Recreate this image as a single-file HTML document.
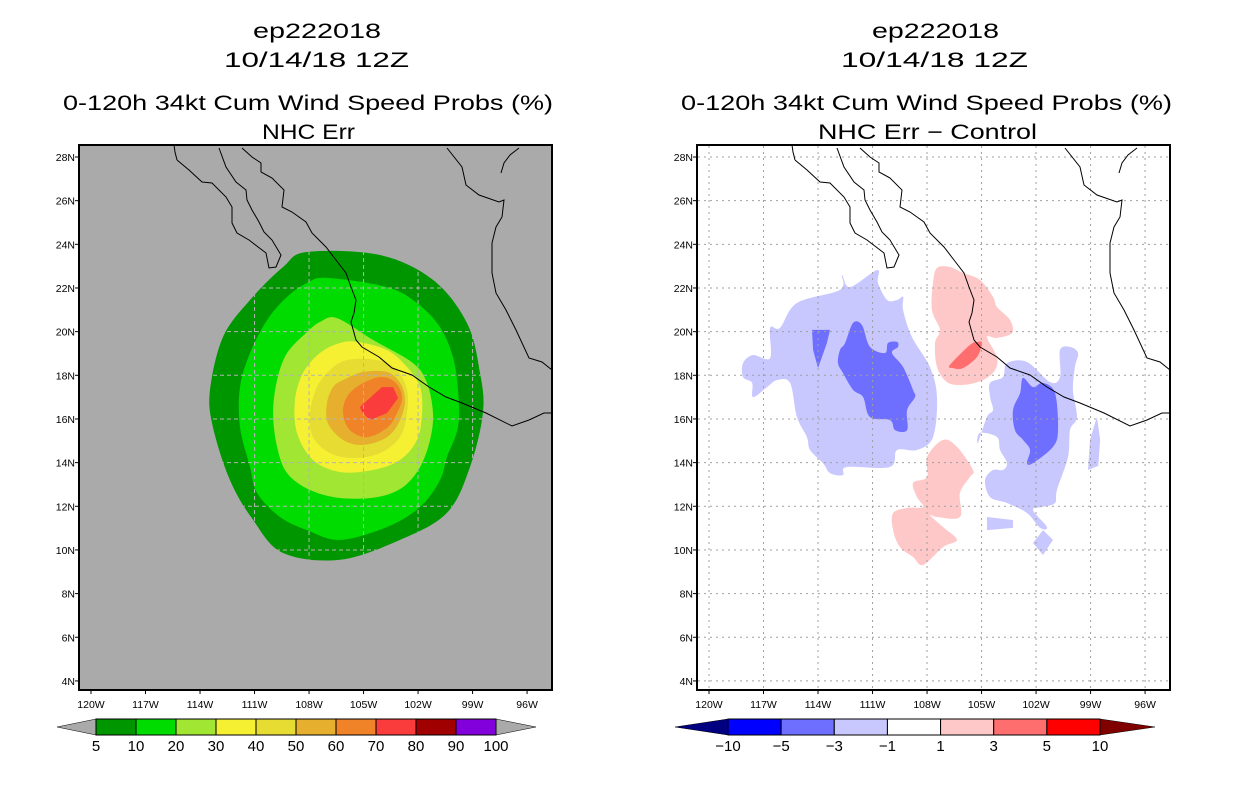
<!DOCTYPE html>
<html><head><meta charset="utf-8"><style>
html,body{margin:0;padding:0;background:#fff;}
svg{display:block;font-family:"Liberation Sans",sans-serif;}
</style></head><body>
<svg id="s" width="1236" height="800" viewBox="0 0 1236 800" xmlns="http://www.w3.org/2000/svg">
<g font-size="21" fill="#000">
<text x="253" y="38" textLength="128" lengthAdjust="spacingAndGlyphs">ep222018</text>
<text x="224" y="67" textLength="185" lengthAdjust="spacingAndGlyphs">10/14/18 12Z</text>
<text x="63" y="110" textLength="490" lengthAdjust="spacingAndGlyphs">0-120h 34kt Cum Wind Speed Probs (%)</text>
<text x="262" y="139" textLength="93" lengthAdjust="spacingAndGlyphs">NHC Err</text>
</g>
<g font-size="21" fill="#000">
<text x="872" y="38" textLength="127" lengthAdjust="spacingAndGlyphs">ep222018</text>
<text x="841" y="67" textLength="187" lengthAdjust="spacingAndGlyphs">10/14/18 12Z</text>
<text x="681" y="110" textLength="491" lengthAdjust="spacingAndGlyphs">0-120h 34kt Cum Wind Speed Probs (%)</text>
<text x="818" y="139" textLength="219" lengthAdjust="spacingAndGlyphs">NHC Err − Control</text>
</g>
<g id="left"></g>
<g id="right"></g>
<g id="cbars"></g>
</svg>
<script>
// ---- data ----
const latTicks=[4,6,8,10,12,14,16,18,20,22,24,26,28];
const lonTicks=[-120,-117,-114,-111,-108,-105,-102,-99,-96];
const probLevels=[5,10,20,30,40,50,60,70,80,90,100];
const probColors=["#009600","#00dc00","#a0e632","#f5f032","#e6dc32","#e6af2d","#f08228","#fa3c3c","#a00000","#8200dc"];
const diffLevels=[-10,-5,-3,-1,1,3,5,10];
const diffColors=["#0000ff","#6e6eff","#c8c8ff","#ffffff","#ffc8c8","#ff6e6e","#ff0000"];
const prob5=[[-108.11,23.65],[-104.09,23.51],[-101.18,22.37],[-99.31,20.40],[-98.59,18.11],[-98.43,16.28],[-99.14,13.80],[-100.41,11.70],[-102.99,10.46],[-106.30,9.55],[-109.43,9.86],[-111.08,11.37],[-112.35,13.20],[-113.29,15.63],[-113.45,17.33],[-112.74,19.75],[-111.25,21.45],[-109.43,22.96]];
const prob10=[[-107.01,22.46],[-103.71,22.04],[-102.06,21.31],[-100.79,20.21],[-100.08,18.84],[-99.80,17.33],[-99.80,15.63],[-100.41,14.26],[-100.79,13.20],[-101.89,11.97],[-103.71,11.05],[-106.30,10.46],[-108.11,10.91],[-109.60,11.51],[-110.86,12.61],[-111.25,13.80],[-111.80,15.63],[-111.80,17.46],[-111.25,19.02],[-110.31,20.53],[-109.21,21.59],[-108.11,22.23]];
const prob20=[[-106.46,20.62],[-104.48,19.62],[-102.28,18.56],[-101.51,17.65],[-101.18,16.27],[-101.34,15.04],[-101.89,13.80],[-102.83,12.88],[-104.26,12.42],[-106.30,12.38],[-107.95,12.75],[-109.21,13.52],[-109.76,14.72],[-109.98,16.27],[-109.76,17.78],[-109.21,19.02],[-108.11,19.98],[-107.40,20.44]];
const prob30=[[-105.36,19.53],[-103.71,19.16],[-102.61,18.38],[-101.89,17.46],[-101.78,16.27],[-102.06,15.04],[-103.00,14.12],[-104.48,13.66],[-106.30,13.57],[-107.78,14.12],[-108.66,15.36],[-108.77,16.87],[-108.33,18.11],[-107.40,19.02],[-106.30,19.48]];
const prob40=[[-105.91,18.70],[-104.26,18.70],[-103.16,18.24],[-102.61,17.33],[-102.61,16.27],[-103.00,15.17],[-104.09,14.44],[-105.58,14.21],[-106.85,14.44],[-107.78,15.17],[-107.95,16.27],[-107.56,17.46],[-106.85,18.24]];
const prob50=[[-106.13,17.78],[-105.03,18.15],[-103.71,18.15],[-102.99,17.65],[-102.72,16.87],[-102.99,15.95],[-103.71,15.17],[-105.03,14.81],[-106.13,15.04],[-106.96,15.81],[-107.01,16.73],[-106.68,17.46]];
const prob60=[[-105.20,17.56],[-104.09,17.92],[-103.27,17.69],[-102.88,17.01],[-103.16,16.27],[-103.71,15.59],[-104.81,15.17],[-105.75,15.49],[-106.13,16.27],[-105.91,17.01]];
const prob70=[[-105.20,16.55],[-103.99,17.46],[-103.38,17.46],[-103.10,16.96],[-103.71,16.27],[-104.65,15.95],[-105.09,16.32]];
const diffWestLight=[[-118.13,18.56],[-117.58,18.93],[-116.64,18.79],[-116.64,20.17],[-116.09,20.17],[-115.16,21.31],[-112.79,21.91],[-112.68,22.59],[-112.24,22.04],[-110.75,22.82],[-110.70,22.23],[-110.20,21.45],[-109.65,21.45],[-109.32,21.59],[-109.32,20.99],[-108.83,19.75],[-107.84,18.38],[-107.45,17.00],[-107.67,15.17],[-108.55,14.58],[-109.65,14.58],[-110.04,13.80],[-112.41,13.80],[-112.63,13.43],[-113.34,13.52],[-113.73,13.98],[-114.44,14.58],[-114.61,15.17],[-115.16,16.09],[-115.54,17.65],[-116.26,17.78],[-116.81,17.46],[-117.58,17.00],[-117.63,17.65],[-118.13,17.92]];
const diffWestMid=[[-112.07,20.40],[-111.58,20.30],[-111.14,19.30],[-110.31,19.02],[-110.15,19.48],[-109.65,19.53],[-109.60,19.30],[-109.93,19.02],[-109.32,18.38],[-108.77,17.33],[-108.66,17.00],[-109.10,16.41],[-109.10,15.49],[-109.76,15.49],[-110.04,15.95],[-111.14,16.09],[-111.52,17.00],[-112.07,17.33],[-112.63,18.11],[-112.90,18.56],[-112.79,19.16],[-112.51,19.48]];
const diffWestMid2=[[-114.33,20.08],[-113.34,20.08],[-113.51,19.48],[-114.00,18.33],[-114.27,19.16]];
const diffEastLight=[[-103.60,18.56],[-102.50,18.61],[-101.23,17.69],[-100.68,17.92],[-100.68,19.16],[-100.13,19.30],[-99.69,19.02],[-99.86,18.38],[-99.97,17.33],[-99.75,16.09],[-100.13,15.49],[-100.24,14.26],[-100.85,12.75],[-100.96,12.15],[-101.62,11.97],[-102.17,11.83],[-101.40,11.05],[-101.78,11.01],[-102.50,11.69],[-103.60,12.15],[-104.53,12.42],[-104.81,13.20],[-104.37,13.66],[-103.82,13.66],[-103.60,13.98],[-103.98,14.58],[-104.15,15.17],[-105.09,15.36],[-105.20,14.90],[-104.70,16.09],[-104.37,16.41],[-104.53,17.00],[-104.53,17.65],[-103.82,17.92]];
const diffEastMid=[[-102.72,17.88],[-102.17,17.46],[-101.62,17.65],[-100.96,17.19],[-100.79,15.49],[-101.07,14.72],[-102.17,13.98],[-102.50,13.98],[-102.33,14.58],[-102.72,15.04],[-103.16,15.49],[-103.27,16.41],[-102.88,17.19]];
const diffEastStrip=[[-98.65,16.09],[-98.47,15.04],[-98.58,13.85],[-99.14,13.66],[-99.03,15.04]];
const diffSouthBit=[[-102.17,10.32],[-101.62,10.91],[-101.07,10.46],[-101.62,9.77]];
const diffSouthBit2=[[-104.70,11.51],[-103.27,11.37],[-103.27,11.01],[-104.70,10.91]];
const diffNorthPink=[[-107.45,22.92],[-106.74,22.96],[-106.02,22.69],[-105.09,22.37],[-104.37,21.59],[-104.15,21.13],[-103.43,20.53],[-103.32,19.94],[-104.15,19.71],[-104.70,19.75],[-104.15,18.84],[-104.26,18.24],[-104.92,17.78],[-106.02,17.56],[-106.90,17.69],[-107.45,18.38],[-107.56,19.48],[-107.29,20.08],[-107.73,20.99],[-107.67,22.23]];
const diffNorthRed=[[-106.74,18.47],[-105.64,19.39],[-105.20,19.53],[-104.98,19.48],[-105.25,18.84],[-106.02,18.33],[-106.57,18.33]];
const diffSouthPink=[[-107.12,15.04],[-106.35,14.72],[-105.47,13.66],[-105.64,13.34],[-106.19,12.61],[-106.19,11.51],[-107.45,11.51],[-107.84,11.60],[-107.12,11.05],[-106.35,10.46],[-107.12,10.13],[-108.22,9.31],[-108.77,9.68],[-109.49,10.13],[-109.87,10.91],[-109.87,11.69],[-109.10,11.92],[-108.22,11.97],[-108.55,12.42],[-108.77,13.07],[-108.00,13.34],[-108.00,14.26]];

const NS="http://www.w3.org/2000/svg";
const PX0=91, PXS=18.17, PY0=157, PYS=21.83;
function xAxis(lon,off){return off+PX0+(lon+120)*PXS;}
function yAxis(lat){return PY0+(28-lat)*PYS;}
function mk(tag,attrs,parent){const e=document.createElementNS(NS,tag);for(const k in attrs)e.setAttribute(k,attrs[k]);parent.appendChild(e);return e;}
function smoothPath(pts,off){
  const p=pts.map(d=>[xAxis(d[0],off),yAxis(d[1])]);const n=p.length;
  let s="M"+p[0][0].toFixed(1)+","+p[0][1].toFixed(1);
  for(let i=0;i<n;i++){const p0=p[(i-1+n)%n],p1=p[i],p2=p[(i+1)%n],p3=p[(i+2)%n];
    const c1=[p1[0]+(p2[0]-p0[0])/6,p1[1]+(p2[1]-p0[1])/6],c2=[p2[0]-(p3[0]-p1[0])/6,p2[1]-(p3[1]-p1[1])/6];
    s+="C"+c1[0].toFixed(1)+","+c1[1].toFixed(1)+" "+c2[0].toFixed(1)+","+c2[1].toFixed(1)+" "+p2[0].toFixed(1)+","+p2[1].toFixed(1);}
  return s+"Z";}
function polyPath(pts,off){return "M"+pts.map(d=>xAxis(d[0],off).toFixed(1)+","+yAxis(d[1]).toFixed(1)).join("L")+"Z";}

const coastBaja="177,160 189,170 202,182 212,183 226,197 232,207 232,223 237,233 249,240 266,253 269,268 276,267 281,255 272,240 264,232 259,222 252,210 247,200 246,190 236,182 226,167 219,148";
const coastMain="242,148 252,157 261,163 261,172 272,178 284,190 282,207 292,212 306,222 312,233 326,247 336,260 346,273 351,287 356,300 354,313 351,322 356,340 362,347 379,357 392,368 412,375 429,387 446,397 462,403 486,413 512,426 529,420 544,413 552,413";
const coastGulf="447,148 462,167 466,185 479,195 499,202 504,200 502,217 496,227 492,243 492,273 496,293 506,310 516,330 529,358 542,362 552,370";
const coastTexas="501,173 504,163 510,155 519,148";
const coastTop="174,145 175,152 177,160";

function drawFrame(g,off){
  const x0=79+off,y0=145,w=473,h=545;
  latTicks.forEach(lat=>{const y=yAxis(lat);
    const t=mk("line",{x1:x0-4,x2:x0,y1:y,y2:y,stroke:"#000","stroke-width":1},g);
    
    
    const tx=mk("text",{x:x0-4,y:y+4,"font-size":10.5,"text-anchor":"end"},g);tx.textContent=lat+"N";
    
    
  });
  lonTicks.forEach(lon=>{const x=xAxis(lon,off);
    const t=mk("line",{x1:x,x2:x,y1:y0+h,y2:y0+h+4,stroke:"#000","stroke-width":1},g);
    
    
    const tx=mk("text",{x:x,y:y0+h+18,"font-size":10.5,"text-anchor":"middle"},g);tx.textContent=(-lon)+"W";
    
    
  });
}
function drawGrid(g,off,style,clip){
  const gg=mk("g",{stroke:style.c,"stroke-width":1,"stroke-dasharray":style.d},g);
  if(clip)gg.setAttribute("clip-path","url(#"+clip+")");
  
  
  latTicks.forEach(lat=>{const y=yAxis(lat);mk("line",{x1:80+off,x2:551+off,y1:y,y2:y},gg);});
  lonTicks.forEach(lon=>{const x=xAxis(lon,off);mk("line",{x1:x,x2:x,y1:146,y2:689},gg);});
}
function drawCoast(g,off){
  const cg=mk("g",{transform:"translate("+off+",0)",fill:"none",stroke:"#000","stroke-width":1},g);
  
  
  [coastBaja,coastMain,coastGulf,coastTexas,coastTop].forEach(c=>mk("polyline",{points:c},cg));
}
const svg=document.getElementById("s");
const defs=mk("defs",{},svg);
const cp=mk("clipPath",{id:"clipL"},defs);mk("path",{d:smoothPath(prob5,0)},cp);
const cpR=mk("clipPath",{id:"frameR"},defs);mk("rect",{x:698,y:146,width:471,height:543},cpR);

const L=document.getElementById("left");
const bg=mk("rect",{x:79,y:145,width:473,height:545,fill:"#aaaaaa"},L);


const probShapes=[prob5,prob10,prob20,prob30,prob40,prob50,prob60,prob70];
probShapes.forEach((pts,i)=>{
  const p=mk("path",{d:i===7?polyPath(pts,0):smoothPath(pts,0),fill:probColors[i]},L);
  
  
});
drawGrid(L,0,{c:"#b4b4b4",d:"4,3"},"clipL");
drawCoast(L,0);
const fL=mk("rect",{x:79,y:145,width:473,height:545,fill:"none",stroke:"#000","stroke-width":2},L);


drawFrame(L,0);

const R=document.getElementById("right");
const off=618;
const bgR=mk("rect",{x:79+off,y:145,width:473,height:545,fill:"#ffffff"},R);


const dg=mk("g",{"clip-path":"url(#frameR)"},R);


const diffShapes=[[diffWestLight,2],[diffEastLight,2],[diffEastStrip,2],[diffSouthBit,2],[diffSouthBit2,2],[diffWestMid,1],[diffWestMid2,1],[diffEastMid,1],[diffNorthPink,4],[diffSouthPink,4],[diffNorthRed,5]];
diffShapes.forEach(([pts,ci])=>{
  const p=mk("path",{d:pts.length>6?smoothPath(pts,off):polyPath(pts,off),fill:diffColors[ci]},dg);
  
  
});
drawGrid(R,off,{c:"#a0a0a0",d:"2,4"},null);
drawCoast(R,off);
const fR=mk("rect",{x:79+off,y:145,width:473,height:545,fill:"none",stroke:"#000","stroke-width":2},R);


drawFrame(R,off);

const C=document.getElementById("cbars");
function colorbar(x0,x1,tipL,tipR,levels,colors,endL,endR,labelFn){
  const y0=719,y1=735,ym=727,n=colors.length,bw=(x1-x0)/n;
  const tl=mk("polygon",{points:tipL+","+ym+" "+x0+","+y0+" "+x0+","+y1,fill:endL,stroke:"#000","stroke-width":0.5},C);
  
  
  const tr=mk("polygon",{points:tipR+","+ym+" "+x1+","+y0+" "+x1+","+y1,fill:endR,stroke:"#000","stroke-width":0.5},C);
  
  
  colors.forEach((c,i)=>{
    const r=mk("rect",{x:x0+i*bw,y:y0,width:bw,height:y1-y0,fill:c,stroke:"#000","stroke-width":1},C);
    
    
  });
  levels.forEach((v,i)=>{
    const t=mk("text",{x:x0+i*bw,y:751,"font-size":15,"text-anchor":"middle"},C);t.textContent=labelFn(v);
    
    
  });
}
colorbar(96,496,57,536,probLevels,probColors,"#aaaaaa","#aaaaaa",v=>String(v));
colorbar(728,1100,675,1155,diffLevels,diffColors,"#000080","#800000",v=>v<0?"−"+(-v):String(v));
</script>
</body></html>
